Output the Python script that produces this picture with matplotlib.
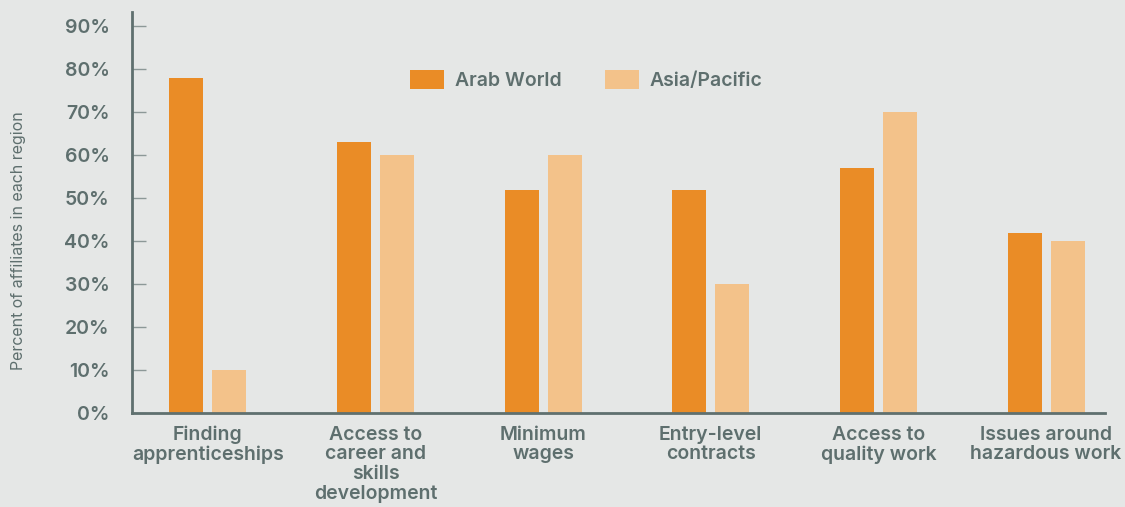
import matplotlib.pyplot as plt
import numpy as np

categories = ['Finding\napprenticeships', 'Access to\ncareer and\nskills\ndevelopment',
              'Minimum\nwages', 'Entry-level\ncontracts', 'Access to\nquality work',
              'Issues around\nhazardous work']
arab_world = [78, 63, 52, 52, 57, 42]
asia_pacific = [10, 60, 60, 30, 70, 40]
yticks = [0, 10, 20, 30, 40, 50, 60, 70, 80, 90]

bg = '#E5E7E6'
txt = '#5E6F6E'
c_arab = '#EA8C26'
c_asia = '#F3C28A'

plt.rcParams['font.family'] = ['Inter', 'DejaVu Sans']

fig = plt.figure(figsize=(11.25, 5.07), dpi=100, facecolor=bg)
ax = fig.add_axes([0.1173, 0.1854, 0.8647, 0.7906], facecolor=bg)

x = np.arange(len(categories))
w = 0.203
off = 0.128
ax.bar(x - off, arab_world, w, color=c_arab, label='Arab World')
ax.bar(x + off, asia_pacific, w, color=c_asia, label='Asia/Pacific')

ax.set_xlim(-0.453, 5.35)
ax.set_ylim(0, 93.3)
ax.set_yticks(yticks)
ax.set_yticklabels([f'{t}%' for t in yticks], fontsize=14, fontweight='semibold', color=txt)
ax.set_xticks(x)
ax.set_xticklabels(categories, fontsize=14, fontweight='semibold', color=txt, linespacing=1.12)
ax.tick_params(axis='x', length=0, pad=9)
ax.tick_params(axis='y', direction='in', length=10, width=1, color='#8C9897', pad=16)

for s in ['top', 'right']:
    ax.spines[s].set_visible(False)
for s in ['left', 'bottom']:
    ax.spines[s].set_color('#5F706F')
    ax.spines[s].set_linewidth(2)

ax.set_ylabel('Percent of affiliates in each region', fontsize=11.5, color=txt)
ax.yaxis.set_label_coords(-0.109, 0.431)

leg = ax.legend(loc='center', bbox_to_anchor=(0.467, 0.83), ncol=2, frameon=False,
                fontsize=14, handlelength=1.75, handleheight=1.13, columnspacing=2.2,
                handletextpad=0.55)
for t in leg.get_texts():
    t.set_color(txt)
    t.set_fontweight('semibold')

fig.savefig('out.png', dpi=100, facecolor=bg)
